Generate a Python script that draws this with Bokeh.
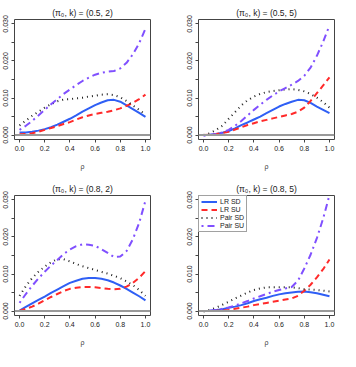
from bokeh.plotting import figure
from bokeh.layouts import column, row
from bokeh.models import FixedTicker, Span, Legend, LegendItem, Range1d
from bokeh.embed import file_html
from bokeh.resources import INLINE

rho = [0.00, 0.05, 0.10, 0.15, 0.20, 0.25, 0.30, 0.35, 0.40, 0.45, 0.50,
       0.55, 0.60, 0.65, 0.70, 0.75, 0.80, 0.85, 0.90, 0.95, 1.00]

titles = ["(π₀, k) = (0.5, 2)", "(π₀, k) = (0.5, 5)",
          "(π₀, k) = (0.8, 2)", "(π₀, k) = (0.8, 5)"]

series_names = ["LR SD", "LR SU", "Pair SD", "Pair SU"]

# panel (0.5, 2)
p1_lr_sd = [0.0007, 0.0007, 0.0009, 0.0012, 0.0016, 0.0021, 0.0028, 0.0036, 0.0044, 0.0053, 0.0063,
            0.0072, 0.0081, 0.0088, 0.0094, 0.0095, 0.0090, 0.0080, 0.0070, 0.0060, 0.0049]
p1_lr_su = [0.0002, 0.0003, 0.0005, 0.0009, 0.0014, 0.0019, 0.0024, 0.0030, 0.0035, 0.0042, 0.0048,
            0.0053, 0.0057, 0.0060, 0.0063, 0.0067, 0.0072, 0.0079, 0.0087, 0.0097, 0.0109]
p1_pair_sd = [0.0026, 0.0039, 0.0052, 0.0063, 0.0074, 0.0083, 0.0091, 0.0096, 0.0097, 0.0099, 0.0101,
              0.0104, 0.0106, 0.0109, 0.0110, 0.0108, 0.0102, 0.0092, 0.0080, 0.0068, 0.0055]
p1_pair_su = [0.0014, 0.0025, 0.0038, 0.0053, 0.0068, 0.0083, 0.0097, 0.0111, 0.0123, 0.0135, 0.0146,
              0.0155, 0.0163, 0.0168, 0.0171, 0.0173, 0.0180, 0.0195, 0.0218, 0.0248, 0.0287]

# panel (0.5, 5)
p2_lr_sd = [0.0000, 0.0001, 0.0003, 0.0006, 0.0011, 0.0018, 0.0027, 0.0034, 0.0042, 0.0050, 0.0059,
            0.0068, 0.0077, 0.0084, 0.0090, 0.0095, 0.0094, 0.0087, 0.0077, 0.0068, 0.0059]
p2_lr_su = [0.0000, 0.0001, 0.0003, 0.0006, 0.0009, 0.0015, 0.0021, 0.0027, 0.0032, 0.0037, 0.0041,
            0.0045, 0.0049, 0.0053, 0.0057, 0.0063, 0.0074, 0.0092, 0.0113, 0.0134, 0.0156]
p2_pair_sd = [0.0000, 0.0005, 0.0014, 0.0025, 0.0044, 0.0062, 0.0080, 0.0094, 0.0104, 0.0111, 0.0116,
              0.0119, 0.0121, 0.0123, 0.0124, 0.0122, 0.0118, 0.0111, 0.0101, 0.0089, 0.0074]
p2_pair_su = [-0.0002, 0.0000, 0.0003, 0.0007, 0.0014, 0.0025, 0.0038, 0.0053, 0.0068, 0.0082, 0.0095,
              0.0107, 0.0118, 0.0127, 0.0136, 0.0146, 0.0160, 0.0182, 0.0214, 0.0252, 0.0296]

# panel (0.8, 2)
p3_lr_sd = [0.0001, 0.0011, 0.0021, 0.0030, 0.0039, 0.0049, 0.0058, 0.0067, 0.0076, 0.0082, 0.0087,
            0.0089, 0.0089, 0.0087, 0.0083, 0.0077, 0.0069, 0.0060, 0.0050, 0.0040, 0.0029]
p3_lr_su = [0.0000, 0.0006, 0.0012, 0.0020, 0.0029, 0.0038, 0.0046, 0.0054, 0.0060, 0.0063, 0.0065,
            0.0065, 0.0064, 0.0062, 0.0060, 0.0059, 0.0060, 0.0066, 0.0076, 0.0090, 0.0108]
p3_pair_sd = [0.0041, 0.0067, 0.0089, 0.0106, 0.0120, 0.0132, 0.0140, 0.0140, 0.0134, 0.0127, 0.0121,
              0.0116, 0.0111, 0.0106, 0.0101, 0.0095, 0.0089, 0.0080, 0.0070, 0.0057, 0.0041]
p3_pair_su = [0.0022, 0.0046, 0.0068, 0.0088, 0.0106, 0.0123, 0.0138, 0.0154, 0.0166, 0.0175, 0.0180,
              0.0179, 0.0176, 0.0167, 0.0157, 0.0146, 0.0147, 0.0162, 0.0194, 0.0238, 0.0298]

# panel (0.8, 5)
p4_lr_sd = [0.0000, 0.0001, 0.0003, 0.0005, 0.0009, 0.0012, 0.0016, 0.0021, 0.0027, 0.0032, 0.0036,
            0.0041, 0.0045, 0.0048, 0.0050, 0.0052, 0.0053, 0.0051, 0.0048, 0.0044, 0.0040]
p4_lr_su = [0.0000, 0.0000, 0.0001, 0.0002, 0.0003, 0.0006, 0.0009, 0.0012, 0.0016, 0.0019, 0.0022,
            0.0025, 0.0028, 0.0031, 0.0034, 0.0041, 0.0055, 0.0071, 0.0091, 0.0113, 0.0139]
p4_pair_sd = [-0.0001, 0.0003, 0.0009, 0.0017, 0.0025, 0.0034, 0.0042, 0.0050, 0.0057, 0.0061, 0.0064,
              0.0064, 0.0064, 0.0064, 0.0064, 0.0062, 0.0059, 0.0058, 0.0057, 0.0055, 0.0053]
p4_pair_su = [0.0000, 0.0001, 0.0003, 0.0006, 0.0010, 0.0015, 0.0021, 0.0027, 0.0034, 0.0040, 0.0046,
              0.0052, 0.0057, 0.0061, 0.0065, 0.0082, 0.0115, 0.0152, 0.0197, 0.0250, 0.0313]

panels = [
    [p1_lr_sd, p1_lr_su, p1_pair_sd, p1_pair_su],
    [p2_lr_sd, p2_lr_su, p2_pair_sd, p2_pair_su],
    [p3_lr_sd, p3_lr_su, p3_pair_sd, p3_pair_su],
    [p4_lr_sd, p4_lr_su, p4_pair_sd, p4_pair_su],
]

x_ticks = [0.0, 0.2, 0.4, 0.6, 0.8, 1.0]
x_tick_labels = ["0.0", "0.2", "0.4", "0.6", "0.8", "1.0"]
y_ticks = [0.0, 0.005, 0.010, 0.015, 0.020, 0.025, 0.030]
y_tick_labels = ["0.000", "", "0.010", "", "0.020", "", "0.030"]

styles = [
    dict(line_color="#2f5ff5", line_dash="solid"),
    dict(line_color="#ff2a2a", line_dash="6 4"),
    dict(line_color="#222222", line_dash="1 4"),
    dict(line_color="#8050ff", line_dash="2 4 7 4"),
]

FONT = "Liberation Sans"


def make_panel(idx):
    left = idx % 2 == 0
    top = idx < 2
    w = 170
    h = 176 if top else 175
    p = figure(width=w, height=h, output_backend="svg", toolbar_location=None,
               x_range=Range1d(-0.04, 1.04), y_range=Range1d(-0.0012, 0.0312),
               min_border_left=14 if left else 28,
               min_border_right=20 if left else 6,
               min_border_top=19, min_border_bottom=37 if top else 36)
    p.title.text = titles[idx]
    p.title.align = "center"
    p.title.text_font = FONT
    p.title.text_font_size = "8.5px"
    p.title.text_font_style = "normal"
    p.title.text_color = "#222222"
    p.title.standoff = 4
    p.grid.visible = False
    p.outline_line_color = "#444444"
    p.outline_line_width = 1
    p.background_fill_color = "white"
    p.border_fill_color = "white"

    p.xaxis.ticker = FixedTicker(ticks=x_ticks)
    p.xaxis.major_label_overrides = dict(zip(x_ticks, x_tick_labels))
    p.yaxis.ticker = FixedTicker(ticks=y_ticks)
    p.yaxis.major_label_overrides = dict(zip(y_ticks, y_tick_labels))
    p.yaxis.major_label_orientation = "vertical"
    for ax in (p.xaxis[0], p.yaxis[0]):
        ax.axis_line_color = None
        ax.major_tick_in = 0
        ax.major_tick_out = 3
        ax.minor_tick_out = 0
        ax.minor_tick_in = 0
        ax.major_tick_line_color = "#444444"
        ax.major_label_text_font = FONT
        ax.major_label_text_font_size = "7px"
        ax.major_label_text_color = "#222222"
        ax.major_label_standoff = 3
    p.xaxis.axis_label = "ρ"
    p.xaxis.axis_label_text_font = FONT
    p.xaxis.axis_label_text_font_size = "7px"
    p.xaxis.axis_label_text_font_style = "normal"
    p.xaxis.axis_label_standoff = 9

    p.add_layout(Span(location=0, dimension="width", line_color="#999999", line_width=2))

    renderers = []
    for ys, st in zip(panels[idx], styles):
        r = p.line(rho, ys, line_width=2, **st)
        renderers.append(r)

    if idx == 3:
        leg = Legend(items=[LegendItem(label=n, renderers=[r]) for n, r in zip(series_names, renderers)],
                     location="top_left", margin=0, padding=2, spacing=1,
                     glyph_width=16, glyph_height=7, label_height=7, label_width=20,
                     label_standoff=3, label_text_font=FONT, label_text_font_size="7px",
                     label_text_color="#222222",
                     border_line_color="#444444", border_line_width=1,
                     background_fill_alpha=1.0)
        p.add_layout(leg, "center")
    return p


figs = [make_panel(i) for i in range(4)]
layout = column(row(figs[0], figs[1]), row(figs[2], figs[3]))

open("out.html", "w").write(file_html(layout, INLINE))
